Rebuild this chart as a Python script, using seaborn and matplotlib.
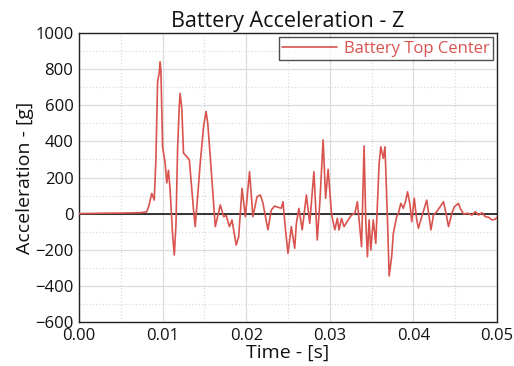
import numpy as np
import pandas as pd
import matplotlib
matplotlib.use("Agg")
import matplotlib.pyplot as plt
import seaborn as sns
from matplotlib.ticker import MultipleLocator

time_s = [0.0000, 0.0025, 0.0049, 0.0073, 0.0081, 0.0084, 0.0087, 0.0090, 0.0092, 0.0094,
          0.0096, 0.0097, 0.0098, 0.0100, 0.0103, 0.0105, 0.0107, 0.0109, 0.0112, 0.0114, 0.0116, 0.0118, 0.0120,
          0.0121, 0.0123, 0.0125,
          0.0129, 0.0132, 0.0137, 0.0139, 0.0142, 0.0145, 0.0149, 0.0151, 0.0152, 0.0154, 0.0157, 0.0163, 0.0169,
          0.0173, 0.0176, 0.0180, 0.0183, 0.0185, 0.0188, 0.0191, 0.0195, 0.0199, 0.0204,
          0.0208, 0.0213, 0.0217, 0.0220, 0.0226, 0.0230, 0.0234, 0.0238, 0.0242, 0.0244,
          0.0247, 0.0250, 0.0254, 0.0258, 0.0260, 0.0263, 0.0267, 0.0272, 0.0276, 0.0281,
          0.0285, 0.0288, 0.0292, 0.0295, 0.0298, 0.0302, 0.0306, 0.0309, 0.0311, 0.0314,
          0.0317, 0.0322, 0.0326, 0.0330, 0.0333, 0.0335, 0.0338, 0.0341, 0.0343, 0.0345,
          0.0347, 0.0349, 0.0352, 0.0355, 0.0359, 0.0361, 0.0364, 0.0366, 0.0369, 0.0371,
          0.0374, 0.0376, 0.0380, 0.0382, 0.0385, 0.0388, 0.0391, 0.0393, 0.0396, 0.0398,
          0.0401, 0.0404, 0.0406, 0.0410, 0.0416, 0.0421, 0.0424, 0.0428, 0.0432, 0.0436,
          0.0439, 0.0442, 0.0446, 0.0449, 0.0454, 0.0456, 0.0460, 0.0465, 0.0470, 0.0474,
          0.0478, 0.0482, 0.0486, 0.0490, 0.0494, 0.0498, 0.0500]
accel_g = [0, 2, 3, 5, 10, 50, 112, 75, 300, 730,
           780, 840, 790, 370, 280, 170, 240, 130, -120, -229, -60, 370, 600,
           666, 580, 335,
           315, 297, 20, -72, 100, 280, 480, 540, 565, 500, 315, -72, 48,
           -17, -10, -72, -35, -90, -174, -128, 140, -17, 232,
           -17, 94, 103, 59, -90, 20, 42, 35, 30, 66,
           -90, -220, -72, -192, -54, 29, -90, 103, -54, 232,
           -146, 57, 408, 85, 245, 0, -90, -26, -90, -26,
           -72, -35, -8, 2, 66, -35, -183, 375, -35, -239,
           -35, -201, -35, -165, 279, 370, 306, 370, -35, -345,
           -238, -109, -17, 2, 57, 29, 75, 121, 48, -45,
           85, -35, -81, -17, 75, -90, -8, 11, 38, 66,
           2, -72, 2, 38, 57, 29, -2, 2, -8, 11,
           -8, 5, -17, -20, -35, -31, -20]
series_name = "Battery Top Center"
title = "Battery Acceleration - Z"
x_label = "Time - [s]"
y_label = "Acceleration - [g]"

sns.set_style("white")
plt.rcParams['font.family'] = ['Open Sans', 'DejaVu Sans']
plt.rcParams['text.color'] = '#111111'
plt.rcParams['axes.labelcolor'] = '#111111'
plt.rcParams['xtick.color'] = '#111111'
plt.rcParams['ytick.color'] = '#111111'

df = pd.DataFrame({"t": time_s, "a": accel_g, "s": series_name})

fig = plt.figure(figsize=(5.14, 3.66), dpi=100)
ax = fig.add_axes([79/514, 44/366, 418/514, 289/366])

line_color = "#d9534f"
ax.axhline(0, color="#333333", lw=1.4, zorder=2)
sns.lineplot(data=df, x="t", y="a", hue="s", palette=[line_color], ax=ax,
             lw=1.2, zorder=3, estimator=None, sort=False)

ax.set_xlim(0, 0.05)
ax.set_ylim(-600, 1000)
ax.xaxis.set_major_locator(MultipleLocator(0.01))
ax.xaxis.set_minor_locator(MultipleLocator(0.005))
ax.yaxis.set_major_locator(MultipleLocator(200))
ax.yaxis.set_minor_locator(MultipleLocator(100))
ax.xaxis.set_major_formatter(matplotlib.ticker.FormatStrFormatter("%.2f"))
ax.grid(which="major", color="#dcdcdc", lw=0.9, ls="-")
ax.grid(which="minor", color="#dcdcdc", lw=0.9, ls=":")
ax.set_axisbelow(True)
ax.tick_params(axis="both", which="major", labelsize=12, length=3, color="#333333")
ax.tick_params(axis="both", which="minor", length=0)
ax.tick_params(axis="y", pad=1)
ax.tick_params(axis="x", pad=1)
for sp in ax.spines.values():
    sp.set_color("#222222")
    sp.set_linewidth(1.0)

ax.set_title(title, fontsize=15.5, pad=4)
ax.set_xlabel(x_label, fontsize=14, labelpad=0.5)
ax.set_ylabel(y_label, fontsize=14, labelpad=1)

leg = ax.legend(loc="upper right", fontsize=12, frameon=True, fancybox=False,
                borderaxespad=0.25, handlelength=3.3, borderpad=0.2, handletextpad=0.4)
leg.get_frame().set_edgecolor("#222222")
leg.get_frame().set_linewidth(1.0)
for txt in leg.get_texts():
    txt.set_color(line_color)

fig.savefig("out.png", dpi=100)
